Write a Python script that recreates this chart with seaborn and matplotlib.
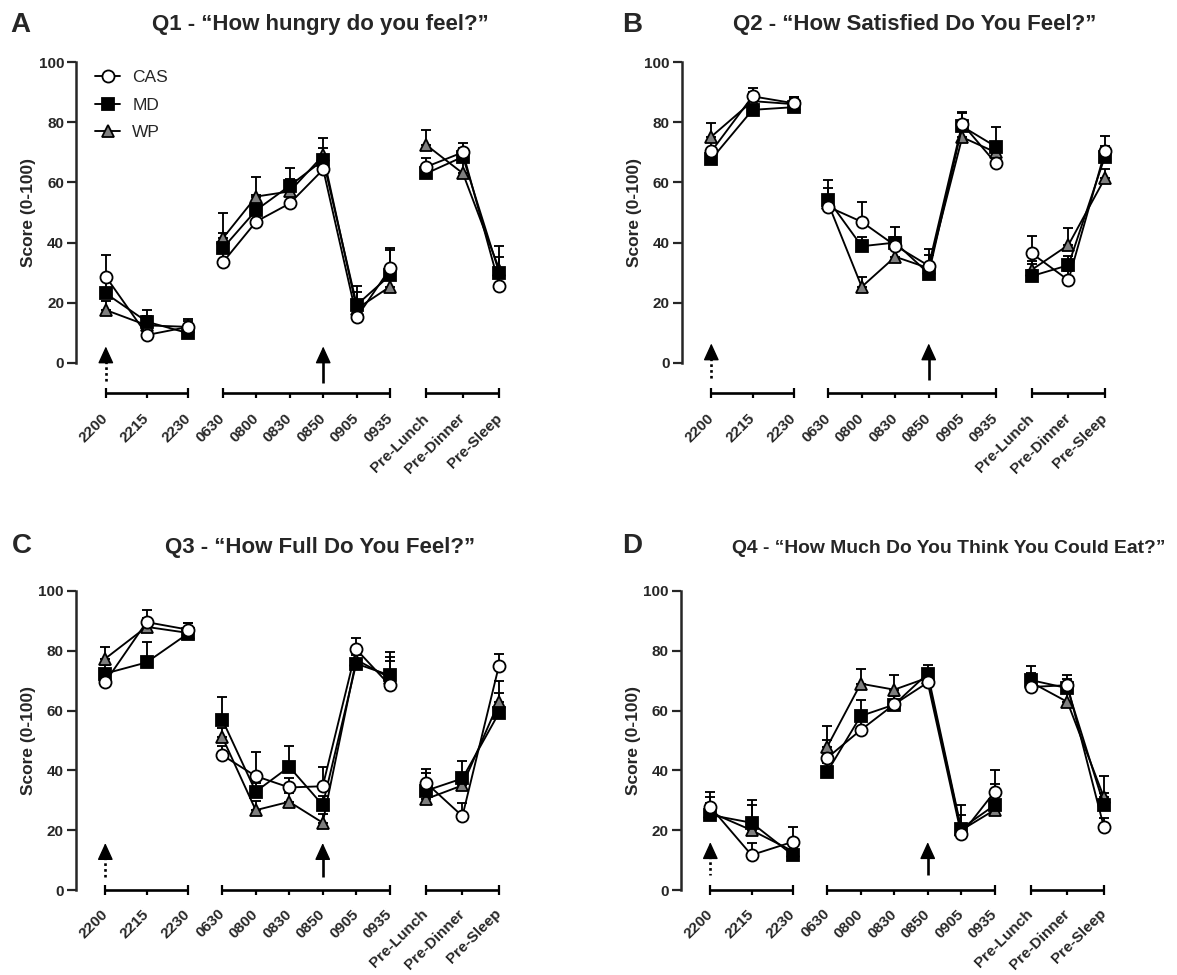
import matplotlib
matplotlib.use("Agg")
import matplotlib.pyplot as plt
import numpy as np
import pandas as pd
import seaborn as sns
from matplotlib.lines import Line2D

# ---------------- data ----------------
times = ["2200", "2215", "2230", "0630", "0800", "0830", "0850", "0905", "0935",
         "Pre-Lunch", "Pre-Dinner", "Pre-Sleep"]
time_block = [0, 0, 0, 1, 1, 1, 1, 1, 1, 2, 2, 2]
series_names = ["CAS", "MD", "WP"]
panel_letters = ["A", "B", "C", "D"]
panel_titles = ["Q1 - \u201cHow hungry do you feel?\u201d",
                "Q2 - \u201cHow Satisfied Do You Feel?\u201d",
                "Q3 - \u201cHow Full Do You Feel?\u201d",
                "Q4 - \u201cHow Much Do You Think You Could Eat?\u201d"]
y_label = "Score (0-100)"
y_ticks = [0, 20, 40, 60, 80, 100]

q1_cas = [28.7, 9.3, 12.0, 33.4, 47.0, 53.0, 64.3, 15.2, 31.4, 65.2, 70.0, 25.7]
q1_md = [23.1, 13.7, 9.9, 38.1, 50.8, 58.9, 67.4, 19.3, 29.2, 63.0, 68.5, 29.8]
q1_wp = [17.6, 12.5, 12.0, 41.4, 55.3, 57.0, 69.0, 18.0, 25.4, 72.4, 63.0, 31.0]
q1_cas_err = [7.2, 3.0, 2.5, 3.0, 4.0, 4.0, 4.0, 4.0, 6.9, 3.0, 3.0, 3.0]
q1_md_err = [4.0, 3.9, 3.0, 5.0, 5.0, 5.8, 4.0, 6.2, 8.5, 3.0, 3.0, 9.0]
q1_wp_err = [3.0, 3.0, 2.0, 8.3, 6.4, 4.0, 5.9, 5.5, 3.0, 5.0, 4.0, 4.3]

q2_cas = [70.3, 88.6, 86.3, 51.9, 46.9, 39.0, 32.3, 79.5, 66.4, 36.4, 27.5, 70.3]
q2_md = [67.7, 84.1, 85.0, 54.2, 38.8, 40.0, 29.7, 78.6, 71.9, 28.9, 32.5, 68.6]
q2_wp = [75.2, 87.0, 86.0, 53.0, 25.3, 35.3, 31.5, 75.0, 70.0, 31.0, 39.2, 61.4]
q2_cas_err = [3.0, 2.7, 2.0, 3.0, 6.7, 3.0, 5.7, 3.5, 3.0, 5.9, 3.0, 5.2]
q2_md_err = [3.0, 3.0, 3.5, 6.6, 3.0, 5.3, 3.0, 4.8, 6.5, 4.1, 3.0, 3.4]
q2_wp_err = [4.5, 3.0, 2.0, 5.0, 3.3, 3.0, 4.3, 3.0, 3.0, 3.0, 5.8, 3.0]

q3_cas = [69.6, 89.6, 87.1, 45.1, 38.1, 34.3, 34.7, 80.5, 68.5, 35.9, 24.7, 75.0]
q3_md = [72.4, 76.1, 85.7, 57.0, 32.9, 41.2, 28.4, 75.7, 71.8, 33.2, 37.3, 59.2]
q3_wp = [77.4, 88.0, 86.0, 51.2, 26.7, 29.5, 22.5, 77.0, 71.0, 30.4, 35.0, 62.9]
q3_cas_err = [3.0, 3.9, 2.2, 3.0, 7.9, 3.0, 6.5, 3.9, 8.0, 4.7, 4.3, 4.0]
q3_md_err = [3.0, 6.9, 3.5, 7.6, 3.0, 7.0, 3.0, 3.0, 7.8, 5.8, 5.8, 6.8]
q3_wp_err = [3.9, 3.0, 2.0, 3.0, 3.0, 3.0, 3.0, 3.0, 6.9, 3.0, 3.0, 6.9]

q4_cas = [27.8, 11.7, 16.1, 44.2, 53.5, 62.1, 69.4, 18.6, 32.9, 67.9, 68.5, 21.0]
q4_md = [25.1, 22.5, 11.7, 39.5, 58.2, 62.0, 72.4, 20.5, 28.4, 70.2, 67.5, 28.4]
q4_wp = [26.0, 20.0, 13.0, 47.9, 69.0, 67.0, 71.0, 20.0, 26.8, 69.5, 62.9, 31.0]
q4_cas_err = [3.4, 4.1, 4.9, 6.1, 3.0, 3.0, 2.0, 3.0, 7.4, 2.0, 3.4, 3.0]
q4_md_err = [7.7, 7.5, 2.0, 3.0, 5.3, 3.0, 2.8, 7.9, 6.9, 4.6, 3.0, 9.7]
q4_wp_err = [3.0, 8.4, 2.0, 6.9, 5.0, 4.8, 2.0, 5.0, 3.0, 3.0, 3.0, 1.5]

panel_values = [
    {"CAS": (q1_cas, q1_cas_err), "MD": (q1_md, q1_md_err), "WP": (q1_wp, q1_wp_err)},
    {"CAS": (q2_cas, q2_cas_err), "MD": (q2_md, q2_md_err), "WP": (q2_wp, q2_wp_err)},
    {"CAS": (q3_cas, q3_cas_err), "MD": (q3_md, q3_md_err), "WP": (q3_wp, q3_wp_err)},
    {"CAS": (q4_cas, q4_cas_err), "MD": (q4_md, q4_md_err), "WP": (q4_wp, q4_wp_err)},
]

# ---------------- layout / style ----------------
block_step = [1.23, 1.0, 1.09]
block_gap = [1.03, 1.08]
pos = []
cur = 0.0
for i, b in enumerate(time_block):
    if i > 0:
        cur += block_step[b] if b == time_block[i - 1] else block_gap[b - 1]
    pos.append(cur)

styles = {
    "CAS": dict(marker="o", markerfacecolor="white", zorder=4),
    "MD": dict(marker="s", markerfacecolor="black", zorder=3),
    "WP": dict(marker="^", markerfacecolor="#7f7f7f", zorder=2),
}
MS = 8.7
MEW = 1.3
LW = 1.35

W, H = 1177, 975
geo = [
    dict(left=76, y0=363, y100=62, ylim=(-14, 103), seg=-10, arrow=(5.5, -6.6), pad=8.0),
    dict(left=681.5, y0=363, y100=62, ylim=(-14, 103), seg=-10, arrow=(6.5, -5.7), pad=8.0),
    dict(left=75.5, y0=890, y100=591, ylim=(-4, 103), seg=0, arrow=(15.7, 4.3), pad=7.0),
    dict(left=680.5, y0=890, y100=591, ylim=(-4, 103), seg=0, arrow=(16.0, 5.0), pad=7.0),
]
XLIM = (-0.89, 12.2)
AX_W = 438.5
HEAD_PX = 15.0

letter_pos = [(10, 32), (622, 32), (12, 553), (622, 553)]
title_pos = [(320, 30, "center", 16), (915, 30, "center", 16),
             (320, 553, "center", 16), (732, 553, "left", 13.9)]

sns.set_style("ticks")
plt.rcParams["font.family"] = ["Liberation Sans", "DejaVu Sans"]

fig = plt.figure(figsize=(W / 100, H / 100), dpi=100)

for p in range(4):
    g = geo[p]
    s = (g["y0"] - g["y100"]) / 100.0
    y_lo, y_hi = g["ylim"]
    bot_px = g["y0"] - y_lo * s
    top_px = g["y100"] - (y_hi - 100) * s
    ax = fig.add_axes([g["left"] / W, 1 - bot_px / H, AX_W / W, (bot_px - top_px) / H])

    rows = []
    for name in series_names:
        vals, errs = panel_values[p][name]
        for i in range(len(times)):
            rows.append(dict(series=name, time=times[i], pos=pos[i], seg=time_block[i],
                             score=vals[i], err=errs[i]))
    df = pd.DataFrame(rows)

    for name in series_names:
        sub = df[df.series == name]
        st = styles[name]
        ax.errorbar(sub["pos"], sub["score"], yerr=[np.zeros(len(sub)), sub["err"]],
                    fmt="none", ecolor="black", elinewidth=LW, capsize=3.6,
                    capthick=LW, zorder=1.5)
        sns.lineplot(data=sub, x="pos", y="score", units="seg", estimator=None,
                     color="black", linewidth=LW, marker=st["marker"],
                     markersize=MS, markerfacecolor=st["markerfacecolor"],
                     markeredgecolor="black", markeredgewidth=MEW,
                     zorder=st["zorder"], legend=False, ax=ax)

    ax.set_xlim(*XLIM)
    ax.set_ylim(*g["ylim"])
    for sp in ["top", "right", "bottom"]:
        ax.spines[sp].set_visible(False)
    ax.spines["left"].set_bounds(0, 100)
    ax.spines["left"].set_linewidth(1.8)
    ax.set_yticks(y_ticks)
    ax.tick_params(axis="y", direction="out", length=6.5, width=1.6, labelsize=11, pad=2)
    for t in ax.get_yticklabels():
        t.set_fontweight("bold")
    ax.set_ylabel(y_label, fontsize=12.5, fontweight="bold")
    ax.yaxis.set_label_coords(-0.091, (50 - y_lo) / (y_hi - y_lo))

    ax.set_xticks(pos)
    ax.set_xticklabels(times)
    ax.set_xlabel("")
    ax.tick_params(axis="x", length=0, pad=g["pad"], labelsize=11)
    for t in ax.get_xticklabels():
        t.set_fontweight("bold")
        t.set_rotation(45)
        t.set_ha("right")
        t.set_va("center")
        t.set_rotation_mode("anchor")

    # segmented x axis
    for b in range(3):
        bp = [pos[i] for i in range(len(times)) if time_block[i] == b]
        ax.plot([bp[0], bp[-1]], [g["seg"], g["seg"]], color="black", lw=1.9,
                solid_capstyle="butt", clip_on=False, zorder=5)
        ax.plot([bp[0], bp[-1]], [g["seg"], g["seg"]], ls="none", marker="|",
                ms=7.5, mew=1.6, color="black", clip_on=False, zorder=5)
        ax.plot(bp[1:-1], [g["seg"]] * (len(bp) - 2), ls="none", marker=3,
                ms=3.8, mew=1.6, color="black", clip_on=False, zorder=5)

    # arrows: shaft (drawn downward from the head) + solid head
    tip, tail = g["arrow"]
    head = HEAD_PX / s
    for xi, lsty in [(pos[0], (0, (1.0, 1.2))), (pos[times.index("0850")], "-")]:
        ax.plot([xi, xi], [tip - head * 0.95, tail], color="black", lw=1.9,
                linestyle=lsty, solid_capstyle="butt", dash_capstyle="butt", zorder=5)
        ax.annotate("", xy=(xi, tip), xytext=(xi, tip - head),
                    arrowprops=dict(arrowstyle="-|>,head_length=1.05,head_width=0.48",
                                    mutation_scale=10, color="black", lw=1.0,
                                    shrinkA=0, shrinkB=0))

    if p == 0:
        handles = []
        for name in series_names:
            st = styles[name]
            handles.append(Line2D([], [], color="black", lw=LW, marker=st["marker"],
                                  markersize=MS, markerfacecolor=st["markerfacecolor"],
                                  markeredgecolor="black", markeredgewidth=MEW))
        fig.legend(handles, series_names, loc="upper left",
                   bbox_to_anchor=(95 / W, 1 - 70 / H), frameon=False,
                   fontsize=12.5, handlelength=1.45, handletextpad=0.7,
                   labelspacing=0.72, borderpad=0, borderaxespad=0)

    lx, ly = letter_pos[p]
    fig.text(lx / W, 1 - ly / H, panel_letters[p], fontsize=20, fontweight="bold",
             ha="left", va="baseline")
    tx, ty, tha, tfs = title_pos[p]
    fig.text(tx / W, 1 - ty / H, panel_titles[p], fontsize=tfs, fontweight="bold",
             ha=tha, va="baseline")

fig.savefig("out.png", dpi=100)
